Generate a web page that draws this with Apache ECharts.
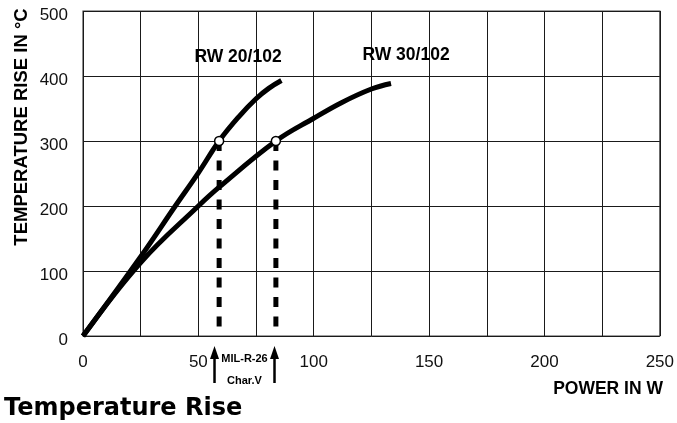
<!DOCTYPE html>
<html>
<head>
<meta charset="utf-8">
<script src="https://cdn.jsdelivr.net/npm/echarts@6/dist/echarts.min.js"></script>
<style>
html,body{margin:0;padding:0;background:#fff;}
#chart{width:677px;height:423px;}
</style>
</head>
<body>
<div id="chart"></div>
<script>
// ---- data ----
const powerRW20 = [0, 25, 40, 50, 59, 67.7, 75, 80.5, 86];
const tempRW20  = [0, 122, 200, 251, 300, 338, 365, 381, 393];
const powerRW30 = [0, 25, 50, 59, 83.6, 100, 112, 125, 133.5];
const tempRW30  = [0, 113, 200, 229, 300, 335, 359, 380, 388.5];
const ratedPower = [59, 83.6];
const ratedTemp  = [300, 300];
const arrowPower = [57, 83];
const seriesNames = ['RW 20/102', 'RW 30/102'];
const xTickLabels = [0, 50, 100, 150, 200, 250];
const yTickLabels = [0, 100, 200, 300, 400, 500];

function pairs(xs, ys) { return xs.map((x, i) => [x, ys[i]]); }

const chart = echarts.init(document.getElementById('chart'), null, {renderer: 'canvas'});
const lineCol = '#1a1a1a';
const font = 'Liberation Sans, Arial, sans-serif';

const dashSeries = ratedPower.map((p, i) => ({
  type: 'line',
  data: [[p, ratedTemp[i]], [p, 0]],
  symbol: 'none',
  lineStyle: {color: '#000', width: 5, type: [10, 9.5]},
  z: 3,
  silent: true
}));

chart.setOption({
  animation: false,
  title: {
    text: 'Temperature Rise',
    left: 4, top: 397, padding: 0,
    textStyle: {fontFamily: 'DejaVu Sans', fontWeight: 'bold', fontSize: 24, color: '#000'}
  },
  grid: {left: 83, right: 14, top: 11, bottom: 87, show: true, borderColor: '#444', borderWidth: 1.2},
  xAxis: {
    type: 'value', min: xTickLabels[0], max: xTickLabels[xTickLabels.length - 1], interval: 50,
    axisLine: {show: false}, axisTick: {show: false},
    splitLine: {show: true, lineStyle: {color: lineCol, width: 1}},
    minorTick: {show: false, splitNumber: 2},
    minorSplitLine: {show: true, lineStyle: {color: lineCol, width: 1}},
    axisLabel: {margin: 18, fontSize: 17, color: '#111', fontFamily: font}
  },
  yAxis: {
    type: 'value', min: yTickLabels[0], max: yTickLabels[yTickLabels.length - 1], interval: 100,
    axisLine: {show: false}, axisTick: {show: false},
    splitLine: {show: true, lineStyle: {color: lineCol, width: 1}},
    axisLabel: {margin: 15, fontSize: 17, color: '#111', verticalAlign: 'top', lineHeight: 9, fontFamily: font}
  },
  series: [
    {name: seriesNames[0], type: 'line', data: pairs(powerRW20, tempRW20), symbol: 'none', smooth: 0.4,
     lineStyle: {color: '#000', width: 5}, z: 4},
    {name: seriesNames[1], type: 'line', data: pairs(powerRW30, tempRW30), symbol: 'none', smooth: 0.4,
     lineStyle: {color: '#000', width: 5}, z: 4},
    ...dashSeries,
    {type: 'scatter', data: pairs(ratedPower, ratedTemp), symbol: 'circle', symbolSize: 9,
     itemStyle: {color: '#fff', borderColor: '#000', borderWidth: 1.5, opacity: 1}, z: 10}
  ]
});

// annotations
const graphics = [
  {type: 'text', x: 22, y: 127, rotation: Math.PI / 2,
   style: {text: 'TEMPERATURE RISE IN °C', font: 'bold 18.5px ' + font, fill: '#000', textAlign: 'center', textVerticalAlign: 'middle'}},
  {type: 'text', x: 663, y: 389,
   style: {text: 'POWER IN W', font: 'bold 17.5px ' + font, fill: '#000', textAlign: 'right', textVerticalAlign: 'middle'}},
  {type: 'text', x: 238, y: 57,
   style: {text: seriesNames[0], font: 'bold 17.5px ' + font, fill: '#000', textAlign: 'center', textVerticalAlign: 'middle'}},
  {type: 'text', x: 406, y: 55,
   style: {text: seriesNames[1], font: 'bold 17.5px ' + font, fill: '#000', textAlign: 'center', textVerticalAlign: 'middle'}}
];
const ax = arrowPower.map(p => chart.convertToPixel({gridIndex: 0}, [p, 0])[0]);
ax.forEach(x => {
  graphics.push({type: 'line', shape: {x1: x, y1: 356, x2: x, y2: 383}, style: {stroke: '#000', lineWidth: 2.5}});
  graphics.push({type: 'polygon', shape: {points: [[x, 346], [x - 4.5, 359], [x + 4.5, 359]]}, style: {fill: '#000'}});
});
const midX = (ax[0] + ax[1]) / 2;
graphics.push({type: 'text', x: midX, y: 359,
  style: {text: 'MIL-R-26', font: 'bold 11px ' + font, fill: '#000', textAlign: 'center', textVerticalAlign: 'middle'}});
graphics.push({type: 'text', x: midX, y: 381,
  style: {text: 'Char.V', font: 'bold 11px ' + font, fill: '#000', textAlign: 'center', textVerticalAlign: 'middle'}});
chart.setOption({graphic: graphics});
</script>
</body>
</html>
